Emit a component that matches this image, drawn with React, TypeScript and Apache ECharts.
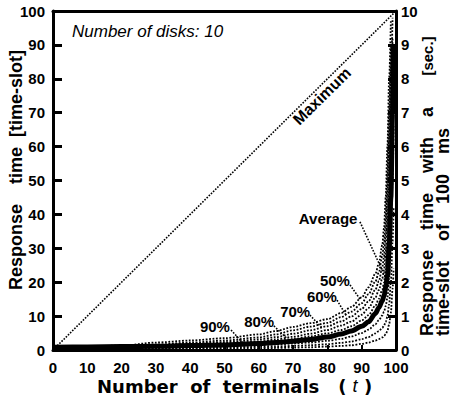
import React, { useEffect, useRef } from "react";
import * as echarts from "echarts";

// ---- data ----
const terminals = [0, 10, 20, 30, 40, 50, 60, 65, 70, 75, 80, 84, 87, 90, 92, 94, 95, 96, 96.5, 97, 97.5, 98, 98.5, 99, 99.3];
const average = [0.8, 0.9, 1, 1.1, 1.3, 1.5, 1.9, 2.2, 2.6, 3.1, 3.8, 4.7, 5.6, 7, 8.3, 10.8, 12.5, 14.5, 16, 18.5, 22, 30, 45, 70, 90];
const pct50 = [1.0, 1.1, 1.3, 2.2, 2.8, 3.5, 4.6, 5.6, 6.8, 7.9, 9.1, 10.9, 12.7, 15.5, 18.5, 22.5, 25.5, 31, 36, 45, 60, 80, 97, null, null];
const pct60 = [0.9, 1.0, 1.2, 1.6, 2.2, 2.8, 3.7, 4.6, 5.8, 6.9, 8.0, 9.7, 11.3, 13.8, 16.5, 20.2, 22.9, 27.7, 31.5, 39, 52, 70, 90, null, null];
const pct70 = [0.9, 1.0, 1.1, 1.4, 1.9, 2.3, 3.1, 3.8, 4.8, 5.8, 7.0, 8.4, 9.9, 12.1, 14.4, 17.8, 20.3, 24.4, 27.5, 34, 45, 62, 82, 98, null];
const pct80 = [0.8, 0.95, 1.05, 1.25, 1.6, 1.9, 2.5, 3.1, 3.9, 4.8, 5.9, 7.2, 8.4, 10.4, 12.4, 15.5, 17.7, 21.1, 23.6, 29, 38, 52, 72, 92, null];
const pct90 = [0.8, 0.9, 1.0, 1.15, 1.4, 1.6, 2.1, 2.6, 3.2, 4.0, 4.9, 5.9, 7.0, 8.7, 10.3, 13.1, 15.1, 17.8, 19.8, 24, 31, 43, 60, 84, null];
const inner1 = [0.6, 0.6, 0.7, 0.8, 0.9, 1.1, 1.4, 1.6, 1.9, 2.2, 2.7, 3.3, 4, 5, 6, 7.6, 8.8, 10.2, 11.3, 13, 15.5, 21, 32, 50, 66];
const inner2 = [0.4, 0.4, 0.5, 0.5, 0.6, 0.7, 0.9, 1, 1.2, 1.4, 1.7, 2.1, 2.5, 3.2, 3.8, 4.9, 5.6, 6.5, 7.2, 8.3, 9.9, 13.5, 20, 32, 42];
const inner3 = [0.2, 0.2, 0.3, 0.3, 0.3, 0.4, 0.5, 0.6, 0.7, 0.8, 1, 1.2, 1.4, 1.8, 2.2, 2.8, 3.2, 3.7, 4.1, 4.7, 5.6, 7.6, 11, 18, 24];

const maximumX = [0, 100];
const maximumY = [0, 100];

const labelText = ["Average", "50%", "60%", "70%", "80%", "90%"];
const labelX = [80.2, 82.2, 78.4, 70.6, 60.1, 47.2];
const labelY = [38.9, 20.4, 15.9, 11.5, 8.3, 6.8];
const leaderX1 = [89.5, 86.6, 82.8, 74.9, 64.4, 51.9];
const leaderY1 = [37.8, 19.2, 14.7, 10.3, 7.1, 5.9];
const leaderX2 = [97.3, 89.5, 85.5, 78.5, 68, 55.5];
const leaderY2 = [20.6, 15.0, 10.2, 6.4, 3.6, 1.9];

const maxLabel = { text: "Maximum", x: 78.4, y: 74.9 };

const xTicks = [0, 10, 20, 30, 40, 50, 60, 70, 80, 90, 100];
const leftTicks = [0, 10, 20, 30, 40, 50, 60, 70, 80, 90, 100];
const rightTicks = [0, 1, 2, 3, 4, 5, 6, 7, 8, 9, 10];

const SANS = '"Liberation Sans", Arial, Helvetica, sans-serif';

const toPairs = (ys: (number | null)[]) =>
  terminals.map((x, i) => [x, ys[i]]).filter((p) => p[1] !== null);

export default function App() {
  const ref = useRef<HTMLDivElement>(null);
  useEffect(() => {
    const chart = echarts.init(ref.current!, null, { renderer: "svg" });
    const dotted = (name: string, ys: (number | null)[]) => ({
      type: "line",
      name,
      data: toPairs(ys),
      smooth: 0.3,
      smoothMonotone: "x",
      symbol: "none",
      lineStyle: { color: "#000", width: 1.8, type: [1.8, 1.6] },
      z: 3,
    });
    const leaders = labelText.map((t, i) => ({
      type: "line",
      name: "leader " + t,
      data: [
        [leaderX1[i], leaderY1[i]],
        [leaderX2[i], leaderY2[i]],
      ],
      symbol: "none",
      lineStyle: { color: "#000", width: 1.6, type: [1.6, 1.5] },
      z: 4,
    }));
    const option: any = {
      animation: false,
      backgroundColor: "#fff",
      grid: { left: 53, right: 57, top: 11, bottom: 49 },
      xAxis: [
        {
          type: "value",
          min: 0,
          max: 100,
          interval: 10,
          position: "bottom",
          axisLine: { show: true, lineStyle: { color: "#000", width: 3 } },
          axisTick: { show: true, inside: true, length: 5, lineStyle: { color: "#000", width: 2 } },
          axisLabel: {
            color: "#000",
            fontFamily: SANS,
            fontWeight: "bold",
            fontSize: 15,
            margin: 10,
            formatter: (v: number) => (xTicks.includes(v) ? String(v) : ""),
          },
          splitLine: { show: false },
        },
        {
          type: "value",
          min: 0,
          max: 100,
          position: "top",
          axisLine: { show: true, onZero: false, lineStyle: { color: "#000", width: 3 } },
          axisTick: { show: false },
          axisLabel: { show: false },
          splitLine: { show: false },
        },
      ],
      yAxis: [
        {
          type: "value",
          min: 0,
          max: 100,
          interval: 10,
          position: "left",
          axisLine: { show: true, onZero: false, lineStyle: { color: "#000", width: 3 } },
          axisTick: { show: true, inside: true, length: 9, lineStyle: { color: "#000", width: 3 } },
          axisLabel: {
            color: "#000",
            fontFamily: SANS,
            fontWeight: "bold",
            fontSize: 15,
            margin: 8,
            formatter: (v: number) => (leftTicks.includes(v) ? String(v) : ""),
          },
          splitLine: { show: false },
        },
        {
          type: "value",
          min: 0,
          max: 10,
          interval: 1,
          position: "right",
          axisLine: { show: true, onZero: false, lineStyle: { color: "#000", width: 3 } },
          axisTick: { show: true, inside: true, length: 8, lineStyle: { color: "#000", width: 3 } },
          axisLabel: {
            color: "#000",
            fontFamily: SANS,
            fontWeight: "bold",
            fontSize: 15,
            margin: 5,
            formatter: (v: number) => (rightTicks.includes(v) ? String(v) : ""),
          },
          splitLine: { show: false },
        },
      ],
      series: [
        {
          type: "line",
          name: "Maximum",
          data: maximumX.map((x, i) => [x, maximumY[i]]),
          symbol: "none",
          lineStyle: { color: "#000", width: 1.6, type: [1.6, 1.4] },
          z: 2,
        },
        dotted("50%", pct50),
        dotted("60%", pct60),
        dotted("70%", pct70),
        dotted("80%", pct80),
        dotted("90%", pct90),
        dotted("inner1", inner1),
        dotted("inner2", inner2),
        dotted("inner3", inner3),
        {
          type: "line",
          name: "Average",
          data: toPairs(average),
          smooth: 0.3,
          smoothMonotone: "x",
          symbol: "none",
          lineStyle: { color: "#000", width: 5 },
          z: 5,
        },
        ...leaders,
        {
          type: "scatter",
          name: "labels",
          symbolSize: 1,
          itemStyle: { color: "rgba(0,0,0,0)" },
          z: 6,
          label: {
            show: true,
            position: "inside",
            color: "#000",
            opacity: 1,
            textBorderWidth: 0,
            textBorderColor: "transparent",
            fontFamily: SANS,
            fontWeight: "bold",
            fontSize: 15,
            formatter: (p: any) => p.data.text,
          },
          emphasis: { disabled: true },
          data: [
            ...labelText.map((t, i) => ({ value: [labelX[i], labelY[i]], text: t })),
            {
              value: [maxLabel.x, maxLabel.y],
              text: maxLabel.text,
              label: { rotate: 44.7, fontSize: 16 },
            },
          ],
        },
      ],
      graphic: [
        {
          type: "text",
          x: 72,
          y: 31,
          style: {
            text: "Number of disks: 10",
            fill: "#000",
            fontFamily: SANS,
            fontStyle: "italic",
            fontSize: 17,
            align: "left",
            verticalAlign: "middle",
            textAlign: "left",
            textVerticalAlign: "middle",
          },
        },
        {
          type: "text",
          x: 97,
          y: 386,
          style: {
            text: "{a|Number  of  terminals   ( }{i|t}{a| )}",
            fill: "#000",
            align: "left",
            verticalAlign: "middle",
            textAlign: "left",
            textVerticalAlign: "middle",
            rich: {
              a: { fontFamily: '"DejaVu Sans", sans-serif', fontWeight: "bold", fontSize: 18, fill: "#000", color: "#000" },
              i: { fontFamily: SANS, fontStyle: "italic", fontSize: 18, fill: "#000", color: "#000" },
            },
          },
        },
        {
          type: "text",
          x: 16,
          y: 170,
          rotation: Math.PI / 2,
          style: {
            text: "Response    time  [time-slot]",
            fill: "#000",
            fontFamily: SANS,
            fontWeight: "bold",
            fontSize: 18,
            align: "center",
            verticalAlign: "middle",
            textAlign: "center",
            textVerticalAlign: "middle",
          },
        },
        {
          type: "text",
          x: 427,
          y: 336,
          rotation: Math.PI / 2,
          style: {
            text: "Response    time    with    a",
            fill: "#000",
            fontFamily: SANS,
            fontWeight: "bold",
            fontSize: 18,
            align: "left",
            verticalAlign: "middle",
            textAlign: "left",
            textVerticalAlign: "middle",
          },
        },
        {
          type: "text",
          x: 443,
          y: 336,
          rotation: Math.PI / 2,
          style: {
            text: "time-slot    of    100    ms",
            fill: "#000",
            fontFamily: SANS,
            fontWeight: "bold",
            fontSize: 18,
            align: "left",
            verticalAlign: "middle",
            textAlign: "left",
            textVerticalAlign: "middle",
          },
        },
        {
          type: "text",
          x: 427,
          y: 56,
          rotation: Math.PI / 2,
          style: {
            text: "[sec.]",
            fill: "#000",
            fontFamily: SANS,
            fontWeight: "bold",
            fontSize: 15,
            align: "center",
            verticalAlign: "middle",
            textAlign: "center",
            textVerticalAlign: "middle",
          },
        },
      ],
    };
    chart.setOption(option);
    return () => chart.dispose();
  }, []);
  return (
    <div
      ref={ref}
      style={{ position: "fixed", left: 0, top: 0, width: 453, height: 399, background: "#fff" }}
    />
  );
}
